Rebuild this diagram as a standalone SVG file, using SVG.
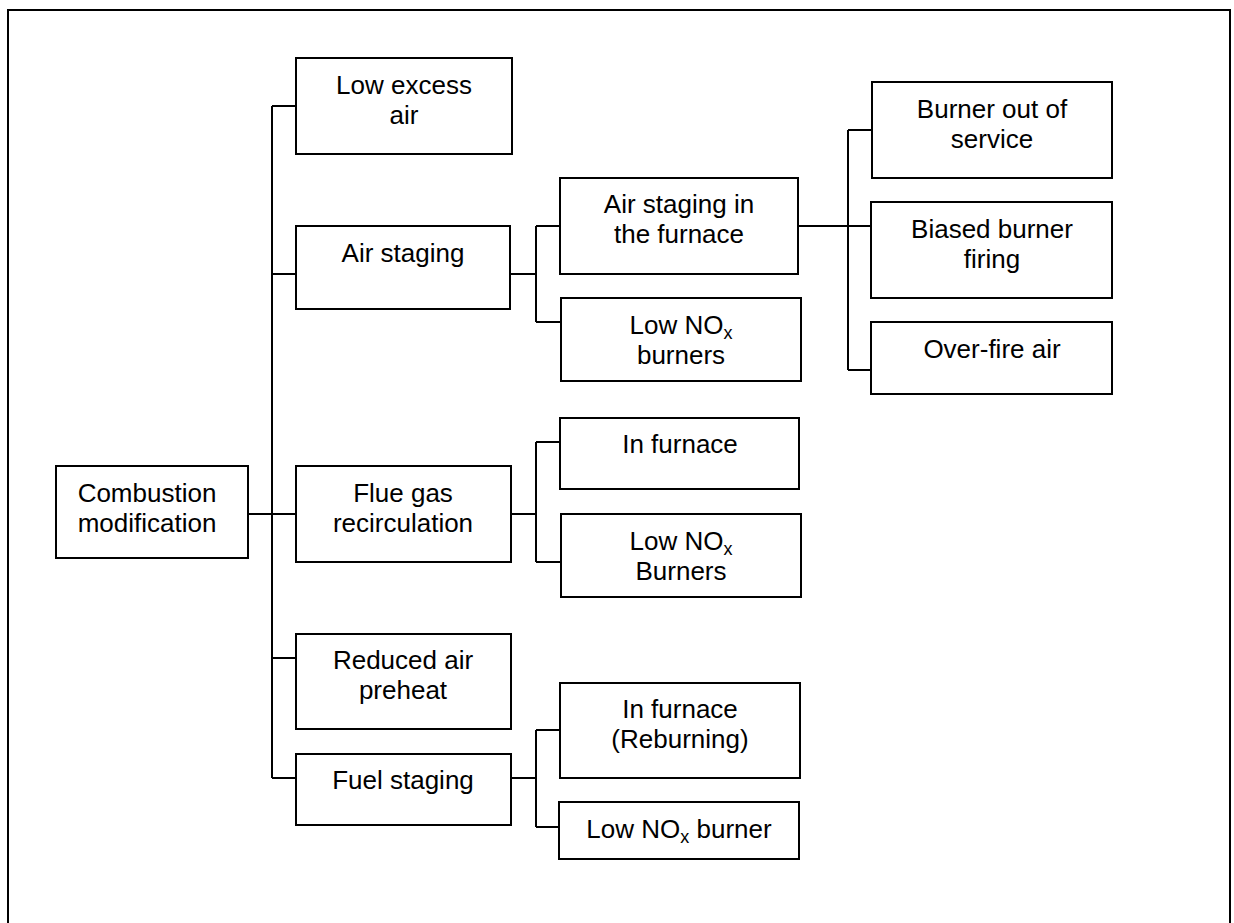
<svg xmlns="http://www.w3.org/2000/svg" width="1234" height="923" viewBox="0 0 1234 923">
<style>
.box{fill:#fff;stroke:#000;stroke-width:2}
.ln{fill:none;stroke:#000;stroke-width:2}
text{font-family:"Liberation Sans",Arial,sans-serif;font-size:26px;fill:#000;text-anchor:middle}
.sub{font-size:18px}
</style>
<rect x="0" y="0" width="1234" height="923" fill="#fff"/>
<rect x="8" y="10" width="1222" height="930" fill="none" stroke="#000" stroke-width="2"/>
<g id="connectors" class="ln">
<path d="M272 106 V778"/>
<path d="M248 514 H296"/>
<path d="M272 106 H296 M272 274 H296 M272 658 H296 M272 778 H296"/>
<path d="M510 274 H536 M536 226 V322 M536 226 H560 M536 322 H561"/>
<path d="M511 514 H536 M536 442 V562 M536 442 H560 M536 562 H561"/>
<path d="M511 778 H536 M536 730 V827 M536 730 H560 M536 827 H559"/>
<path d="M798 226 H871 M848 130 V370 M848 130 H872 M848 370 H871"/>
</g>
<g id="combustion"><rect class="box" x="56" y="466" width="192" height="92"/><text x="147" y="502">Combustion</text><text x="147" y="532">modification</text></g>
<g id="low-excess-air"><rect class="box" x="296" y="58" width="216" height="96"/><text x="404" y="94">Low excess</text><text x="404" y="124">air</text></g>
<g id="air-staging"><rect class="box" x="296" y="226" width="214" height="83"/><text x="403" y="262">Air staging</text></g>
<g id="flue-gas"><rect class="box" x="296" y="466" width="215" height="96"/><text x="403" y="502">Flue gas</text><text x="403" y="532">recirculation</text></g>
<g id="reduced-air"><rect class="box" x="296" y="634" width="215" height="95"/><text x="403" y="669">Reduced air</text><text x="403" y="699">preheat</text></g>
<g id="fuel-staging"><rect class="box" x="296" y="754" width="215" height="71"/><text x="403" y="789">Fuel staging</text></g>
<g id="air-staging-furnace"><rect class="box" x="560" y="178" width="238" height="96"/><text x="679" y="213">Air staging in</text><text x="679" y="243">the furnace</text></g>
<g id="low-nox-burners-1"><rect class="box" x="561" y="298" width="240" height="83"/><text x="681" y="334">Low NO<tspan class="sub" dy="5">x</tspan></text><text x="681" y="364">burners</text></g>
<g id="in-furnace"><rect class="box" x="560" y="418" width="239" height="71"/><text x="680" y="453">In furnace</text></g>
<g id="low-nox-burners-2"><rect class="box" x="561" y="514" width="240" height="83"/><text x="681" y="550">Low NO<tspan class="sub" dy="5">x</tspan></text><text x="681" y="580">Burners</text></g>
<g id="in-furnace-reburning"><rect class="box" x="560" y="683" width="240" height="95"/><text x="680" y="718">In furnace</text><text x="680" y="748">(Reburning)</text></g>
<g id="low-nox-burner-3"><rect class="box" x="559" y="802" width="240" height="57"/><text x="679" y="838">Low NO<tspan class="sub" dy="5">x</tspan><tspan dy="-5"> burner</tspan></text></g>
<g id="burner-out"><rect class="box" x="872" y="82" width="240" height="96"/><text x="992" y="118">Burner out of</text><text x="992" y="148">service</text></g>
<g id="biased-burner"><rect class="box" x="871" y="202" width="241" height="96"/><text x="992" y="238">Biased burner</text><text x="992" y="268">firing</text></g>
<g id="over-fire-air"><rect class="box" x="871" y="322" width="241" height="72"/><text x="992" y="358">Over-fire air</text></g>
</svg>
